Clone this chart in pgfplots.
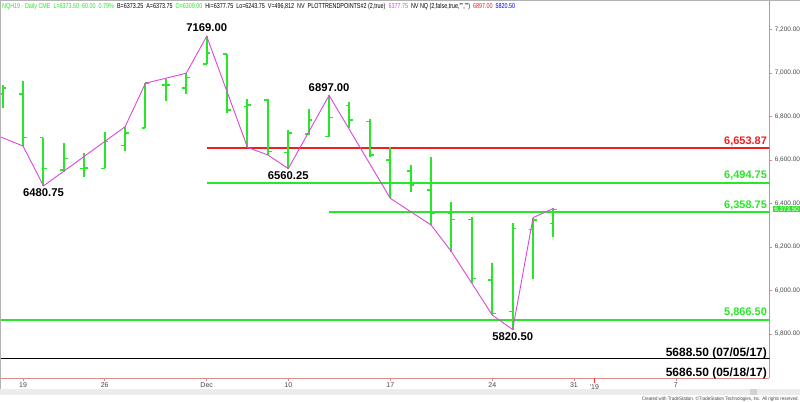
\documentclass[border=0pt]{standalone}
\usepackage{fontspec}
\setmainfont{Liberation Sans}
\usepackage{pgfplots}
\pgfplotsset{compat=1.18}
\usepackage{pgfplotstable}

\definecolor{barg}{RGB}{40,230,40}
\definecolor{lvlred}{RGB}{240,30,30}
\definecolor{zig}{RGB}{220,70,220}
\definecolor{axpink}{RGB}{215,140,140}
\definecolor{ticktxt}{RGB}{70,70,70}

% open tick to the left, close tick to the right
\pgfdeclareplotmark{otick}{%
  \pgfpathmoveto{\pgfqpoint{0pt}{0pt}}%
  \pgfpathlineto{\pgfqpoint{-\pgfplotmarksize}{0pt}}%
  \pgfusepathqstroke}
\pgfdeclareplotmark{ctick}{%
  \pgfpathmoveto{\pgfqpoint{0pt}{0pt}}%
  \pgfpathlineto{\pgfqpoint{\pgfplotmarksize}{0pt}}%
  \pgfusepathqstroke}

% daily bars, index = trading day from Nov 16
\pgfplotstableread{
i O H L C
0 6903 6945 6839 6930
1 6903 6965 6664 6704
2 6703 6703 6480.75 6562
3 6554 6677 6546 6608
4 6562 6631 6523 6563
5 6562 6727 6562 6684
6 6666 6753 6643 6723
7 6746 6953 6746 6953
8 6945 6971 6873 6945
9 6930 6999 6903 6980
10 7041 7169 7041 7091
11 7087 7087 6817 6830
12 6845 6880 6658 6853
13 6876 6880 6623 6640
14 6634 6738 6560.25 6723
15 6720 6833 6715 6784
16 6707 6897 6704 6796
17 6850 6868 6746 6784
18 6776 6789 6612 6623
19 6600 6658 6424 6493
20 6550 6577 6454 6485
21 6462 6612 6301 6355
22 6355 6405 6178 6327
23 6327 6337 6033 6056
24 6048 6125 5887 5895
25 5903 6312 5820.5 6286
26 6281 6335 6051 6324
27 6309 6377.75 6243.75 6373.5
}\bars

\pgfplotstableread{
i P
-1 6740
1 6664
2 6480.75
6 6753
7 6953
9 6999
10 7169
12 6658
13 6623
14 6560.25
16 6897
19 6424
21 6301
22 6178
23 6033
24 5887
25 5820.5
26 6335
27 6377.75
}\zigzag

\begin{document}
\begin{tikzpicture}
\useasboundingbox (0,0) rectangle (800bp,402bp);

\begin{axis}[
    at={(0bp,24bp)}, anchor=south west,
    scale only axis, width=769.3bp, height=378bp,
    xmin=-0.132, xmax=37.58, ymin=5597.7, ymax=7335.6,
    axis x line*=bottom, axis y line*=right,
    axis line style={draw=axpink, line width=0.8bp, -},
    tick align=outside, major tick length=3bp,
    tick style={draw=axpink, line width=0.6bp},
    scaled y ticks=false,
    ytick={5800,6000,...,7200},
    yticklabel style={font=\fontsize{6.5}{8}\selectfont, text=ticktxt,
        anchor=west, inner sep=0pt, xshift=2.3bp,
        /pgf/number format/.cd, fixed, fixed zerofill, precision=2,
        1000 sep={,}, assume math mode=true},
    xtick={1,5,10,14,19,24,28,33},
    xticklabels={19,26,Dec,10,17,24,31,7},
    extra x ticks={29},
    extra x tick labels={’19},
    extra x tick style={major tick length=5bp, tick style={draw=red!80}},
    xticklabel style={font=\fontsize{7}{8}\selectfont, text=ticktxt,
        inner sep=0pt, yshift=-1.5bp},
    clip mode=individual,
]

% support / resistance levels
\addplot[lvlred, line width=1.8bp] coordinates {(10,6653.87) (40,6653.87)};
\addplot[barg, line width=2bp] coordinates {(10,6494.75) (40,6494.75)};
\addplot[barg, line width=2bp] coordinates {(16,6358.75) (40,6358.75)};
\addplot[barg, line width=2bp] coordinates {(-1,5866.5) (40,5866.5)};
\addplot[black, line width=1.3bp] coordinates {(-1,5688.5) (40,5688.5)};
\addplot[black, line width=1.3bp] coordinates {(-1,5686.5) (40,5686.5)};

% high-low ranges, drawn as vectors from high down to low
\addplot[barg, line width=2bp, mark=none,
    quiver={u=0, v=\thisrow{L}-\thisrow{H}}]
    table[x=i, y=H] {\bars};
% open and close ticks
\addplot[only marks, mark=otick, mark size=3.8bp, barg, line width=1.5bp]
    table[x=i, y=O] {\bars};
\addplot[only marks, mark=ctick, mark size=3.8bp, barg, line width=1.5bp]
    table[x=i, y=C] {\bars};

% trend points
\addplot[zig, line width=0.9bp] table[x=i, y=P] {\zigzag};

% swing labels
\tikzset{swing/.style={anchor=base, inner sep=0pt,
    font=\bfseries\fontsize{11.3}{13}\selectfont}}
\node[swing] at (axis cs:10,7189.9) {7169.00};
\node[swing] at (axis cs:2,6429.9) {6480.75};
\node[swing] at (axis cs:16,6914) {6897.00};
\node[swing] at (axis cs:14,6512.6) {6560.25};
\node[swing] at (axis cs:25,5772.4) {5820.50};

% level labels
\tikzset{lvl/.style={anchor=base east, inner sep=0pt,
    font=\bfseries\fontsize{11}{13}\selectfont}}
\node[lvl, text=lvlred] at (axis cs:37.47,6669) {6,653.87};
\node[lvl, text=barg] at (axis cs:37.47,6516) {6,494.75};
\node[lvl, text=barg] at (axis cs:37.47,6378) {6,358.75};
\node[lvl, text=barg] at (axis cs:37.47,5883) {5,866.50};
\node[lvl, font=\bfseries\fontsize{12}{14}\selectfont] at (axis cs:37.47,5697) {5688.50 (07/05/17)};
\node[lvl, font=\bfseries\fontsize{12}{14}\selectfont] at (axis cs:37.47,5603) {5686.50 (05/18/17)};

% last price marker
\node[anchor=west, fill=barg, text=white, inner sep=0.5bp,
    minimum width=27.3bp, minimum height=5.6bp,
    font=\fontsize{6.3}{7}\selectfont, xshift=3.4bp]
    at (axis cs:37.58,6373.5) {6,373.50};
\end{axis}

% frame, scrollbar, header and footer
\draw[gray!60, line width=1bp] (0.5bp,13bp) -- (0.5bp,402bp);
\draw[gray!60, line width=1bp] (0,401.5bp) -- (800bp,401.5bp);
\fill[gray!15] (0,6.5bp) rectangle (800bp,13bp);
\fill[gray!35] (750bp,7bp) rectangle (757bp,12.5bp);

\node[anchor=base west, inner sep=0pt] at (2bp,393.7bp) {\resizebox{513bp}{5.2bp}{%
  \textcolor{barg}{NQH19 - Daily CME~~L=6373.50~~60.00~~0.79\%}~~B=6373.25~~A=6373.75~~%
  \textcolor{barg}{O=6309.00}~~Hi=6377.75~~Lo=6243.75~~V=496,812~~NV~~PLOTTRENDPOINTS\#2 (2,true)~~%
  \textcolor{zig}{6377.75}~~NV NQ (2,false,true,"","")~~\textcolor{lvlred}{6897.00}~~\textcolor{blue}{5820.50}}};

\node[anchor=base east, inner sep=0pt, text=ticktxt] at (799bp,1.8bp)
  {\resizebox{157bp}{3.6bp}{Created with TradeStation. ©TradeStation Technologies, Inc. All rights reserved.}};
\end{tikzpicture}
\end{document}
